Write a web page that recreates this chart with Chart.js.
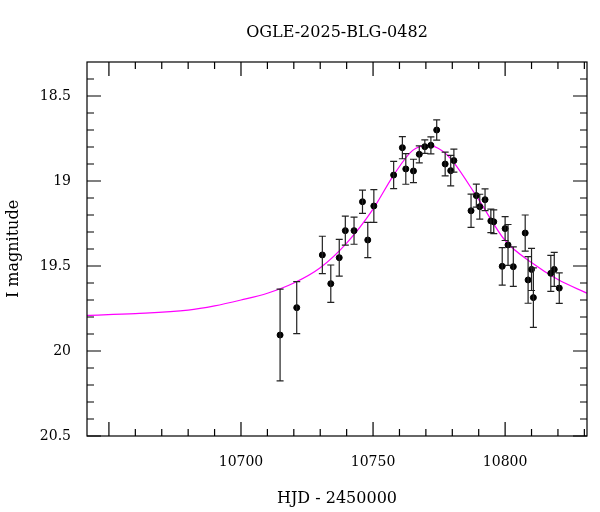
<!DOCTYPE html>
<html><head><meta charset="utf-8">
<script src="https://cdn.jsdelivr.net/npm/chart.js@4"></script>
<style>html,body{margin:0;padding:0;background:#fff}#w{width:600px;height:512px}</style>
</head><body><div id="w"><canvas id="c"></canvas></div>
<script>
const title = "OGLE-2025-BLG-0482";
const xLabel = "HJD - 2450000";
const yLabel = "I magnitude";
const obsT = [10714.8,10721.1,10730.8,10734.0,10737.2,10739.5,10742.8,10746.0,10748.0,10750.3,10757.8,10761.1,10762.4,10765.3,10767.5,10769.6,10771.9,10774.1,10777.3,10779.4,10780.6,10787.1,10789.1,10790.4,10792.4,10794.6,10795.7,10798.9,10800.0,10801.1,10803.1,10807.6,10808.7,10810.0,10810.7,10817.3,10818.6,10820.5];
const obsMag = [19.906,19.745,19.435,19.604,19.451,19.292,19.292,19.122,19.347,19.147,18.965,18.804,18.929,18.941,18.843,18.798,18.79,18.70,18.90,18.939,18.88,19.175,19.086,19.151,19.11,19.235,19.24,19.502,19.28,19.376,19.504,19.306,19.582,19.52,19.686,19.543,19.52,19.63];
const obsErr = [0.27,0.153,0.11,0.11,0.108,0.085,0.08,0.068,0.104,0.096,0.08,0.065,0.09,0.069,0.05,0.04,0.05,0.06,0.07,0.09,0.068,0.098,0.068,0.073,0.064,0.069,0.07,0.11,0.07,0.12,0.116,0.106,0.137,0.124,0.175,0.106,0.1,0.09];
const modelT = [10641.7,10660,10680,10690,10700,10710,10720,10730,10740,10750,10757.8,10765,10771,10776,10780,10790,10800,10810,10820,10831];
const modelMag = [19.79,19.78,19.76,19.735,19.70,19.66,19.60,19.51,19.365,19.165,18.965,18.82,18.79,18.82,18.88,19.11,19.35,19.48,19.58,19.66];
const xTicks = [10700,10750,10800];
const yTicks = [18.5,19,19.5,20,20.5];

const serif = "'DejaVu Serif', serif";
const framePlugin = {
  id:'frame',
  afterDatasetsDraw(ch){
    const {ctx, chartArea:a, scales:{x,y}} = ch;
    ctx.save();
    // error bars
    ctx.strokeStyle='#222'; ctx.lineWidth=1.2;
    obsT.forEach((t,i)=>{
      const px=x.getPixelForValue(t), y1=y.getPixelForValue(obsMag[i]-obsErr[i]), y2=y.getPixelForValue(obsMag[i]+obsErr[i]);
      ctx.beginPath(); ctx.moveTo(px,y1); ctx.lineTo(px,y2);
      ctx.moveTo(px-3.5,y1); ctx.lineTo(px+3.5,y1); ctx.moveTo(px-3.5,y2); ctx.lineTo(px+3.5,y2); ctx.stroke();
    });
    ctx.strokeStyle='#000'; ctx.lineWidth=1.2;
    ctx.strokeRect(a.left,a.top,a.right-a.left,a.bottom-a.top);
    ctx.beginPath();
    for(let v=10650; v<=10830; v+=10){
      const px=x.getPixelForValue(v); const L = (v%50===0)?14:7;
      ctx.moveTo(px,a.bottom); ctx.lineTo(px,a.bottom-L);
      ctx.moveTo(px,a.top); ctx.lineTo(px,a.top+L);
    }
    for(let k=184; k<=205; k++){
      const v=k/10, py=y.getPixelForValue(v); const L=(k%5===0)?14:7;
      ctx.moveTo(a.left,py); ctx.lineTo(a.left+L,py);
      ctx.moveTo(a.right,py); ctx.lineTo(a.right-L,py);
    }
    ctx.stroke();
    ctx.fillStyle='#000'; ctx.font="16px "+serif; ctx.textAlign='center'; ctx.textBaseline='middle';
    ctx.fillText(title,(a.left+a.right)/2,33);
    ctx.restore();
  }
};
new Chart(document.getElementById('c'),{
  data:{datasets:[
    {type:'scatter',data:obsT.map((t,i)=>({x:t,y:obsMag[i]})),pointRadius:3,pointBackgroundColor:'#000',pointBorderColor:'#000',order:1},
    {type:'line',data:modelT.map((t,i)=>({x:t,y:modelMag[i]})),borderColor:'#ff00ff',borderWidth:1.2,pointRadius:0,tension:0.4,cubicInterpolationMode:'monotone',order:2}
  ]},
  options:{animation:false,responsive:true,maintainAspectRatio:false,
    layout:{padding:{top:62,right:13,left:0,bottom:0}},
    plugins:{legend:{display:false},tooltip:{enabled:false}},
    scales:{
      x:{type:'linear',min:10641.7,max:10831,grid:{display:false},border:{display:false},
        afterBuildTicks:s=>{s.ticks=xTicks.map(v=>({value:v}));},
        afterFit:s=>{s.height=76;},
        ticks:{color:'#000',font:{family:serif,size:14},padding:10,maxRotation:0,callback:v=>String(v)},
        title:{display:true,text:xLabel,color:'#000',font:{family:serif,size:16},padding:{top:8}}},
      y:{type:'linear',min:18.3,max:20.5,reverse:true,grid:{display:false},border:{display:false},
        afterBuildTicks:s=>{s.ticks=yTicks.map(v=>({value:v}));},
        afterFit:s=>{s.width=87;},
        ticks:{color:'#000',font:{family:serif,size:14},padding:8,callback:v=>String(v)},
        title:{display:true,text:yLabel,color:'#000',font:{family:serif,size:16},padding:{bottom:4}}}
    }},
  plugins:[framePlugin]
});
</script></body></html>
